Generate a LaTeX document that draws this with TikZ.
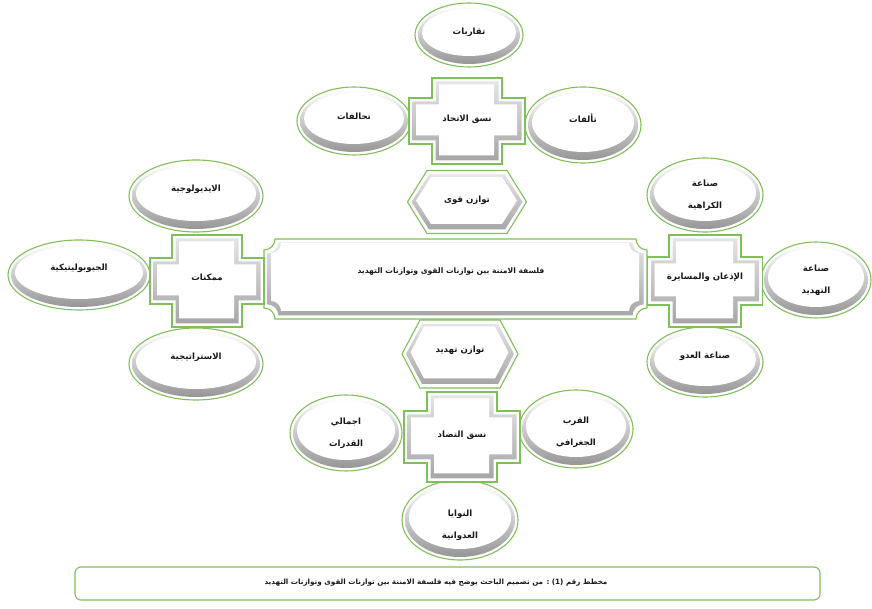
\documentclass[tikz,border=0pt]{standalone}
\usepackage{fontspec}
\newfontfamily\arabicfont[Script=Arabic]{DejaVu Sans}
\TeXXeTstate=1
\definecolor{gline}{RGB}{128,192,90}
\definecolor{bev}{RGB}{150,150,150}
\newcommand{\ar}[1]{\beginR #1\endR}
\tikzset{
  outl/.style={draw=gline, line width=1.1pt},
  lbl/.style={font=\arabicfont\bfseries\fontsize{8.6}{22}\selectfont, align=center, inner sep=1pt, text=black!90},
  smalllbl/.style={lbl, font=\arabicfont\bfseries\fontsize{7.6}{10}\selectfont},
}
% cross path: a = half arm width, H = half height, W = half width, b = half arm height
\newcommand{\cp}[4]{({-(#1)},{-(#2)}) -- ({#1},{-(#2)}) -- ({#1},{-(#4)}) -- ({#3},{-(#4)}) -- ({#3},{#4}) -- ({#1},{#4}) -- ({#1},{#2}) -- ({-(#1)},{#2}) -- ({-(#1)},{#4}) -- ({-(#3)},{#4}) -- ({-(#3)},{-(#4)}) -- ({-(#1)},{-(#4)}) -- cycle}
% hexagon path: hw, hh, tw
\newcommand{\hp}[3]{({-(#3)},{#2}) -- ({#3},{#2}) -- ({#1},0) -- ({#3},{-(#2)}) -- ({-(#3)},{-(#2)}) -- ({-(#1)},0) -- cycle}
% plaque path with concave corners
\newcommand{\plq}[5]{(#1,{#4-#5}) arc[start angle=270,end angle=360,radius=#5] -- ({#3-#5},#4) arc[start angle=180,end angle=270,radius=#5] -- (#3,{#2+#5}) arc[start angle=90,end angle=180,radius=#5] -- ({#1+#5},#2) arc[start angle=0,end angle=90,radius=#5] -- cycle}
% oval: name, x, y, rx, ry, text dy, text
\newcommand{\ovalbox}[7]{%
  \fill[white] (#2,#3) ellipse [x radius=#4, y radius=#5];
  \shade[top color=white, bottom color=bev] (#2,#3) ellipse [x radius=#4-3, y radius=#5-3];
  \fill[white] (#2,#3+2.5) ellipse [x radius=#4-7, y radius=#5-8.5];
  \draw[outl] (#2,#3) ellipse [x radius=#4, y radius=#5];
  \node[lbl] (#1) at (#2,#3+#6) {#7};
}
% cross: name, cx, cy, W, H, a, b, text, dy
\newcommand{\crossbox}[9]{%
  \begin{scope}[shift={(#2,#3)}]
    \fill[white] \cp{#6}{#5}{#4}{#7};
    \shade[top color=bev!25, bottom color=bev!85] \cp{#6-3.5}{#5-3.5}{#4-3.5}{#7-3.5};
    \fill[white, shift={(-0.5,1)}] \cp{#6-7.5}{#5-7.5}{#4-7.5}{#7-7.5};
    \draw[outl] \cp{#6}{#5}{#4}{#7};
    \node[lbl] (#1) at (0,#9) {#8};
  \end{scope}}
% hexagon: name, cx, cy, hw, hh, tw, dy, text
\newcommand{\hexbox}[8]{%
  \begin{scope}[shift={(#2,#3)}]
    \fill[white] \hp{#4}{#5}{#6};
    \shade[top color=bev!25, bottom color=bev!85] \hp{#4-4}{#5-4}{#6-2};
    \fill[white, shift={(-0.5,1.5)}] \hp{#4-9}{#5-8}{#6-4.5};
    \draw[outl] \hp{#4}{#5}{#6};
    \node[lbl] (#1) at (0,#7) {#8};
  \end{scope}}
\begin{document}
\begin{tikzpicture}[x=1pt,y=1pt]
\useasboundingbox (0,0) rectangle (872,609);
\fill[white] (0,0) rectangle (872,609);

% ---- top cluster
\ovalbox{tqarubat}{469}{574}{54}{32}{3}{\ar{تقاربات}}
\ovalbox{tahalufat}{354}{488}{57}{34}{5}{\ar{تحالفات}}
\ovalbox{taalufat}{583}{484}{58}{38}{7}{\ar{تألفات}}
\crossbox{ittihad}{467}{488}{58}{43}{35}{23}{\ar{نسق الاتحاد}}{2}
\hexbox{tawazunquwa}{467}{407}{59.5}{31.5}{40}{2}{\ar{توازن قوى}}

% ---- center plaque
\fill[white] \plq{264}{290}{647}{370}{11};
\shade[top color=bev!25, bottom color=bev!85] \plq{267.5}{293.5}{643.5}{366.5}{11};
\fill[white] \plq{271}{298}{639}{366}{10};
\draw[outl] \plq{264}{290}{647}{370}{11};
\node[smalllbl] (center) at (451,337) {\ar{فلسفة الامننة بين توازنات القوى وتوازنات التهديد}};

% ---- left cluster
\ovalbox{ideology}{196}{413}{67}{36}{7}{\ar{الايديولوجية}}
\ovalbox{geopol}{79}{334}{71}{35}{7}{\ar{الجيوبوليتيكية}}
\ovalbox{strategy}{196}{245}{67}{36}{7}{\ar{الاستراتيجية}}
\crossbox{mumkinat}{207}{328}{57}{46}{35}{23}{\ar{ممكنات}}{4}

% ---- right cluster
\ovalbox{karahiya}{705}{414}{58}{37}{0}{\ar{صناعة}\\\ar{الكراهية}}
\ovalbox{tahdid}{816}{329}{55}{38}{0}{\ar{صناعة}\\\ar{التهديد}}
\ovalbox{aduw}{705}{247}{58}{35}{6}{\ar{صناعة العدو}}
\crossbox{idhaan}{705}{328}{57.5}{46}{36}{24}{\ar{الإذعان والمسايرة}}{4}

% ---- bottom cluster
\ovalbox{qudurat}{346}{176}{56}{38}{0}{\ar{اجمالي}\\\ar{القدرات}}
\ovalbox{qurb}{576}{180}{57}{39}{-3}{\ar{القرب}\\\ar{الجغرافي}}
\ovalbox{nawaya}{460}{89}{58}{40}{-5}{\ar{النوايا}\\\ar{العدوانية}}
\crossbox{tadad}{462}{172}{58}{45}{35}{26}{\ar{نسق التضاد}}{2}
\hexbox{tawazuntahdid}{460}{255}{58}{34}{40}{4}{\ar{توازن تهديد}}

% ---- caption
\draw[outl, rounded corners=6pt, fill=white] (75,9) rectangle (820,42);
\node[smalllbl, font=\arabicfont\bfseries\fontsize{7.2}{10}\selectfont] (caption) at (436,26) {\ar{مخطط رقم \beginL(1)\endL{} : من تصميم الباحث يوضح فيه فلسفة الامننة بين توازنات القوى وتوازنات التهديد}};
\end{tikzpicture}
\end{document}
